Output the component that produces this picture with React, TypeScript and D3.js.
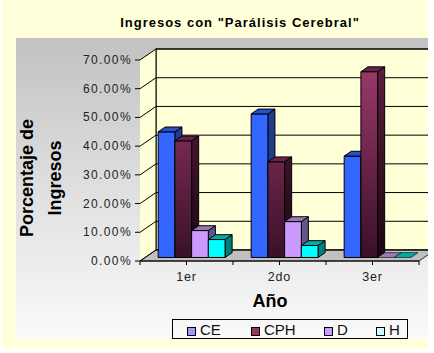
import React from "react";
import * as d3 from "d3";

const categories = ["1er", "2do", "3er"];
const seriesNames = ["CE", "CPH", "D", "H"];
const valuesCE = [0.4375, 0.5, 0.353];
const valuesCPH = [0.40625, 0.3333, 0.647];
const valuesD = [0.09375, 0.125, 0];
const valuesH = [0.0625, 0.0417, 0];
const yTicks = [0, 0.1, 0.2, 0.3, 0.4, 0.5, 0.6, 0.7];
const titleText = "Ingresos con \"Parálisis Cerebral\"";
const yTitle = ["Porcentaje de", "Ingresos"];
const xTitle = "Año";

const W = 434;
const H = 353;
const DX = 16;
const DY = -11;
const FRONT_LEFT = 140;
const FRONT_RIGHT = 419;
const Y0 = 261;
const CLIP_RIGHT = 428;

const faceColors: Record<string, { front: string; top: string; side: string; legend: string }> = {
  CE: { front: "#3366FF", top: "#2A4FCC", side: "#203C90", legend: "#9999FF" },
  CPH: { front: "url(#cphFront)", top: "#6A2247", side: "url(#cphSide)", legend: "#993366" },
  D: { front: "#CC99FF", top: "#9977BB", side: "#665588", legend: "#CC99FF" },
  H: { front: "#00FFFF", top: "#00AAAA", side: "#007F7F", legend: "#CCFFFF" },
};

export default function App() {
  const seriesValues: Record<string, number[]> = {
    CE: valuesCE,
    CPH: valuesCPH,
    D: valuesD,
    H: valuesH,
  };
  const y = d3.scaleLinear().domain([0, 0.7]).range([Y0, Y0 - 201]);
  const x0 = d3.scaleBand().domain(categories).range([FRONT_LEFT, FRONT_RIGHT]).padding(0);
  const x1 = d3
    .scaleBand()
    .domain(seriesNames)
    .range([0, x0.bandwidth()])
    .paddingInner(0)
    .paddingOuter(0.78);
  const fmt = d3.format(".2%");
  const proj = (xf: number, v: number, f: number): [number, number] => [xf + f * DX, y(v) + f * DY];
  const pts = (arr: [number, number][]) => arr.map((p) => p.join(",")).join(" ");
  const F1 = 0.32;
  const F2 = 0.76;

  const bars: React.ReactNode[] = [];
  categories.forEach((c, ci) => {
    seriesNames.forEach((s) => {
      const v = seriesValues[s][ci];
      const xl = (x0(c) as number) + (x1(s) as number);
      const xr = xl + x1.bandwidth();
      const col = faceColors[s];
      const front = [proj(xl, v, F1), proj(xr, v, F1), proj(xr, 0, F1), proj(xl, 0, F1)] as [number, number][];
      const side = [proj(xr, v, F1), proj(xr, v, F2), proj(xr, 0, F2), proj(xr, 0, F1)] as [number, number][];
      const top = [proj(xl, v, F1), proj(xl, v, F2), proj(xr, v, F2), proj(xr, v, F1)] as [number, number][];
      bars.push(
        <g key={c + s} stroke="#000" strokeWidth={1} strokeLinejoin="round">
          {v > 0 && <polygon points={pts(side)} fill={col.side} />}
          {v > 0 && <polygon points={pts(front)} fill={col.front} />}
          <polygon points={pts(top)} fill={col.top} strokeWidth={v > 0 ? 1 : 0.6} />
        </g>
      );
    });
  });

  const halfTicks: number[] = [];
  const step = x0.step();
  for (let i = 0; i <= categories.length * 2; i++) halfTicks.push(FRONT_LEFT + (i * step) / 2);

  const backLeft = FRONT_LEFT + DX;
  const legendX = [187, 251, 324, 376];

  return (
    <svg
      width={W}
      height={H}
      style={{ position: "absolute", left: 0, top: 0, background: "#fff" }}
      fontFamily="Liberation Sans, Arial, sans-serif"
    >
      <defs>
        <linearGradient id="panelGrad" x1="0" y1="0" x2="0" y2="1">
          <stop offset="0" stopColor="#C2C2C2" />
          <stop offset="0.55" stopColor="#E2E2E2" />
          <stop offset="1" stopColor="#FAFAFA" />
        </linearGradient>
        <linearGradient id="cphFront" gradientUnits="userSpaceOnUse" x1="0" y1="60" x2="0" y2="258">
          <stop offset="0" stopColor="#9E3A6C" />
          <stop offset="1" stopColor="#3A1028" />
        </linearGradient>
        <linearGradient id="cphSide" gradientUnits="userSpaceOnUse" x1="0" y1="60" x2="0" y2="258">
          <stop offset="0" stopColor="#5E2040" />
          <stop offset="1" stopColor="#1A0610" />
        </linearGradient>
        <clipPath id="plotClip">
          <rect x={0} y={0} width={CLIP_RIGHT} height={H} />
        </clipPath>
      </defs>
      <rect x={2} y={0} width={CLIP_RIGHT - 2} height={349} fill="#FFFFDA" />
      <rect x={16} y={38} width={CLIP_RIGHT - 16} height={301} fill="url(#panelGrad)" />

      <text x={240} y={27} textAnchor="middle" fontSize={13} fontWeight="bold" letterSpacing={1}>
        {titleText}
      </text>

      <g clipPath="url(#plotClip)">
        <rect x={backLeft} y={y(0.7) + DY} width={CLIP_RIGHT - backLeft + 10} height={y(0) - y(0.7)} fill="#FFFFD8" stroke="#000" />
        <polygon
          points={pts([proj(FRONT_LEFT, 0.7, 0), proj(FRONT_LEFT, 0.7, 1), proj(FRONT_LEFT, 0, 1), proj(FRONT_LEFT, 0, 0)])}
          fill="#FFFFD8"
        />
        <polygon
          points={pts([proj(FRONT_LEFT, 0, 0), proj(FRONT_RIGHT, 0, 0), proj(FRONT_RIGHT, 0, 1), proj(FRONT_LEFT, 0, 1)])}
          fill="#C0C0C0"
          stroke="#000"
          strokeWidth={0.8}
        />
        {yTicks.map((t) => (
          <g key={t} stroke="#000" strokeWidth={1}>
            <line x1={backLeft} x2={CLIP_RIGHT + 10} y1={y(t) + DY} y2={y(t) + DY} />
            <line x1={FRONT_LEFT} y1={y(t)} x2={backLeft} y2={y(t) + DY} />
            <line x1={FRONT_LEFT - 5} y1={y(t)} x2={FRONT_LEFT} y2={y(t)} />
          </g>
        ))}
        <line x1={backLeft} x2={backLeft} y1={y(0.7) + DY} y2={y(0) + DY} stroke="#000" />
        {bars}
        <line x1={FRONT_LEFT} x2={FRONT_RIGHT} y1={Y0} y2={Y0} stroke="#000" />
        {halfTicks.map((t, i) => (
          <line key={i} x1={t} x2={t} y1={Y0} y2={Y0 + 4} stroke="#000" />
        ))}
      </g>

      {yTicks.map((t) => (
        <text key={t} x={132} y={y(t) + 4} textAnchor="end" fontSize={12} letterSpacing={1.4} fill="#222">
          {fmt(t)}
        </text>
      ))}

      {categories.map((c) => (
        <text key={c} x={(x0(c) as number) + x0.bandwidth() / 2} y={281} textAnchor="middle" fontSize={12.5} letterSpacing={0.8} fill="#222">
          {c}
        </text>
      ))}

      <text x={270} y={307} textAnchor="middle" fontSize={18} fontWeight="bold">
        {xTitle}
      </text>

      <g transform="translate(33,178) rotate(-90)">
        <text x={0} y={0} textAnchor="middle" fontSize={18} fontWeight="bold">
          {yTitle[0]}
        </text>
      </g>
      <g transform="translate(61,178) rotate(-90)">
        <text x={0} y={0} textAnchor="middle" fontSize={18} fontWeight="bold">
          {yTitle[1]}
        </text>
      </g>

      <rect x={172.5} y={319.5} width={235} height={19} fill="none" stroke="#000" />
      {seriesNames.map((s, i) => (
        <g key={s}>
          <rect x={legendX[i] + 0.5} y={327.5} width={8} height={8} fill={faceColors[s].legend} stroke="#000" />
          <text x={legendX[i] + 13} y={335} fontSize={15} fill="#111">
            {s}
          </text>
        </g>
      ))}
    </svg>
  );
}
